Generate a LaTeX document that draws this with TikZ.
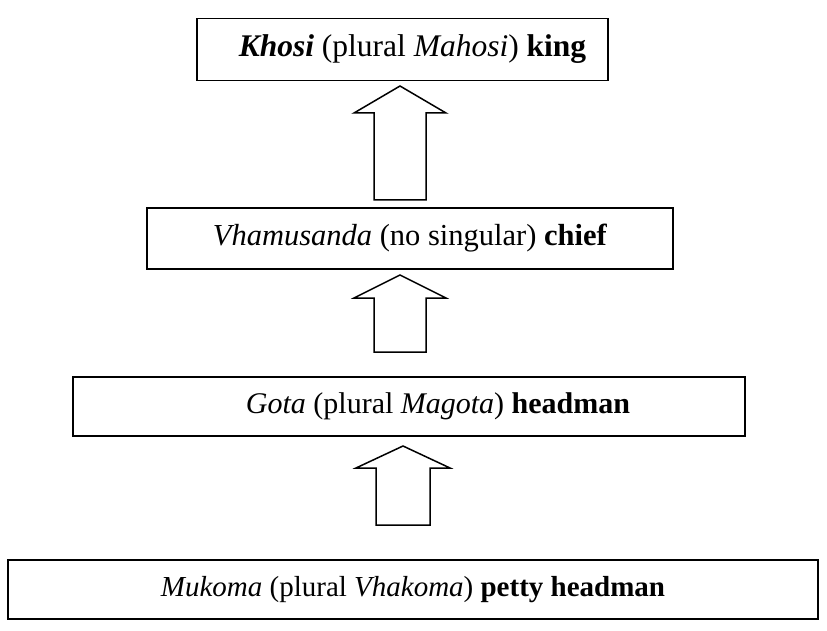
\documentclass[tikz,border=0pt]{standalone}
\usepackage{fontspec}
\setmainfont{Liberation Serif}
\begin{document}
\begin{tikzpicture}[x=1pt,y=-1pt,
  box/.style={draw, line width=1.8pt, inner sep=0pt},
  blockarrow/.style={draw, line width=1.5pt, line join=miter}]
\useasboundingbox (0,0) rectangle (827,631);
\fill[white] (0,0) rectangle (827,631);
\node[box, minimum width=411pt, minimum height=62pt, font=\fontsize{31.5}{36}\selectfont] (b1) at (402.5,49.5)
  {\hspace*{20pt}\textbf{\textit{Khosi}} (plural \textit{Mahosi}) \textbf{king}};
\node[box, minimum width=526pt, minimum height=61pt, font=\fontsize{30.5}{36}\selectfont] (b2) at (410,238.5)
  {\textit{Vhamusanda} (no singular) \textbf{chief}};
\node[box, minimum width=672pt, minimum height=59pt, font=\fontsize{30}{36}\selectfont] (b3) at (409,406.5)
  {\hspace*{58pt}\textit{Gota} (plural \textit{Magota}) \textbf{headman}};
\node[box, minimum width=810pt, minimum height=59pt, font=\fontsize{29}{36}\selectfont] (b4) at (413,589.5)
  {\textit{Mukoma} (plural \textit{Vhakoma}) \textbf{petty headman}};
% block arrows: cx, tip, head base, bottom, half head, half shaft
\newcommand\uparr[6]{%
  \draw[blockarrow] (#1,#2) -- (#1+#5,#3) -- (#1+#6,#3) -- (#1+#6,#4)
    -- (#1-#6,#4) -- (#1-#6,#3) -- (#1-#5,#3) -- cycle;}
\uparr{400}{86}{113}{200}{46}{26}
\uparr{400}{275}{298}{352}{46}{26}
\uparr{403}{446}{468}{525}{47}{27}
\end{tikzpicture}
\end{document}
